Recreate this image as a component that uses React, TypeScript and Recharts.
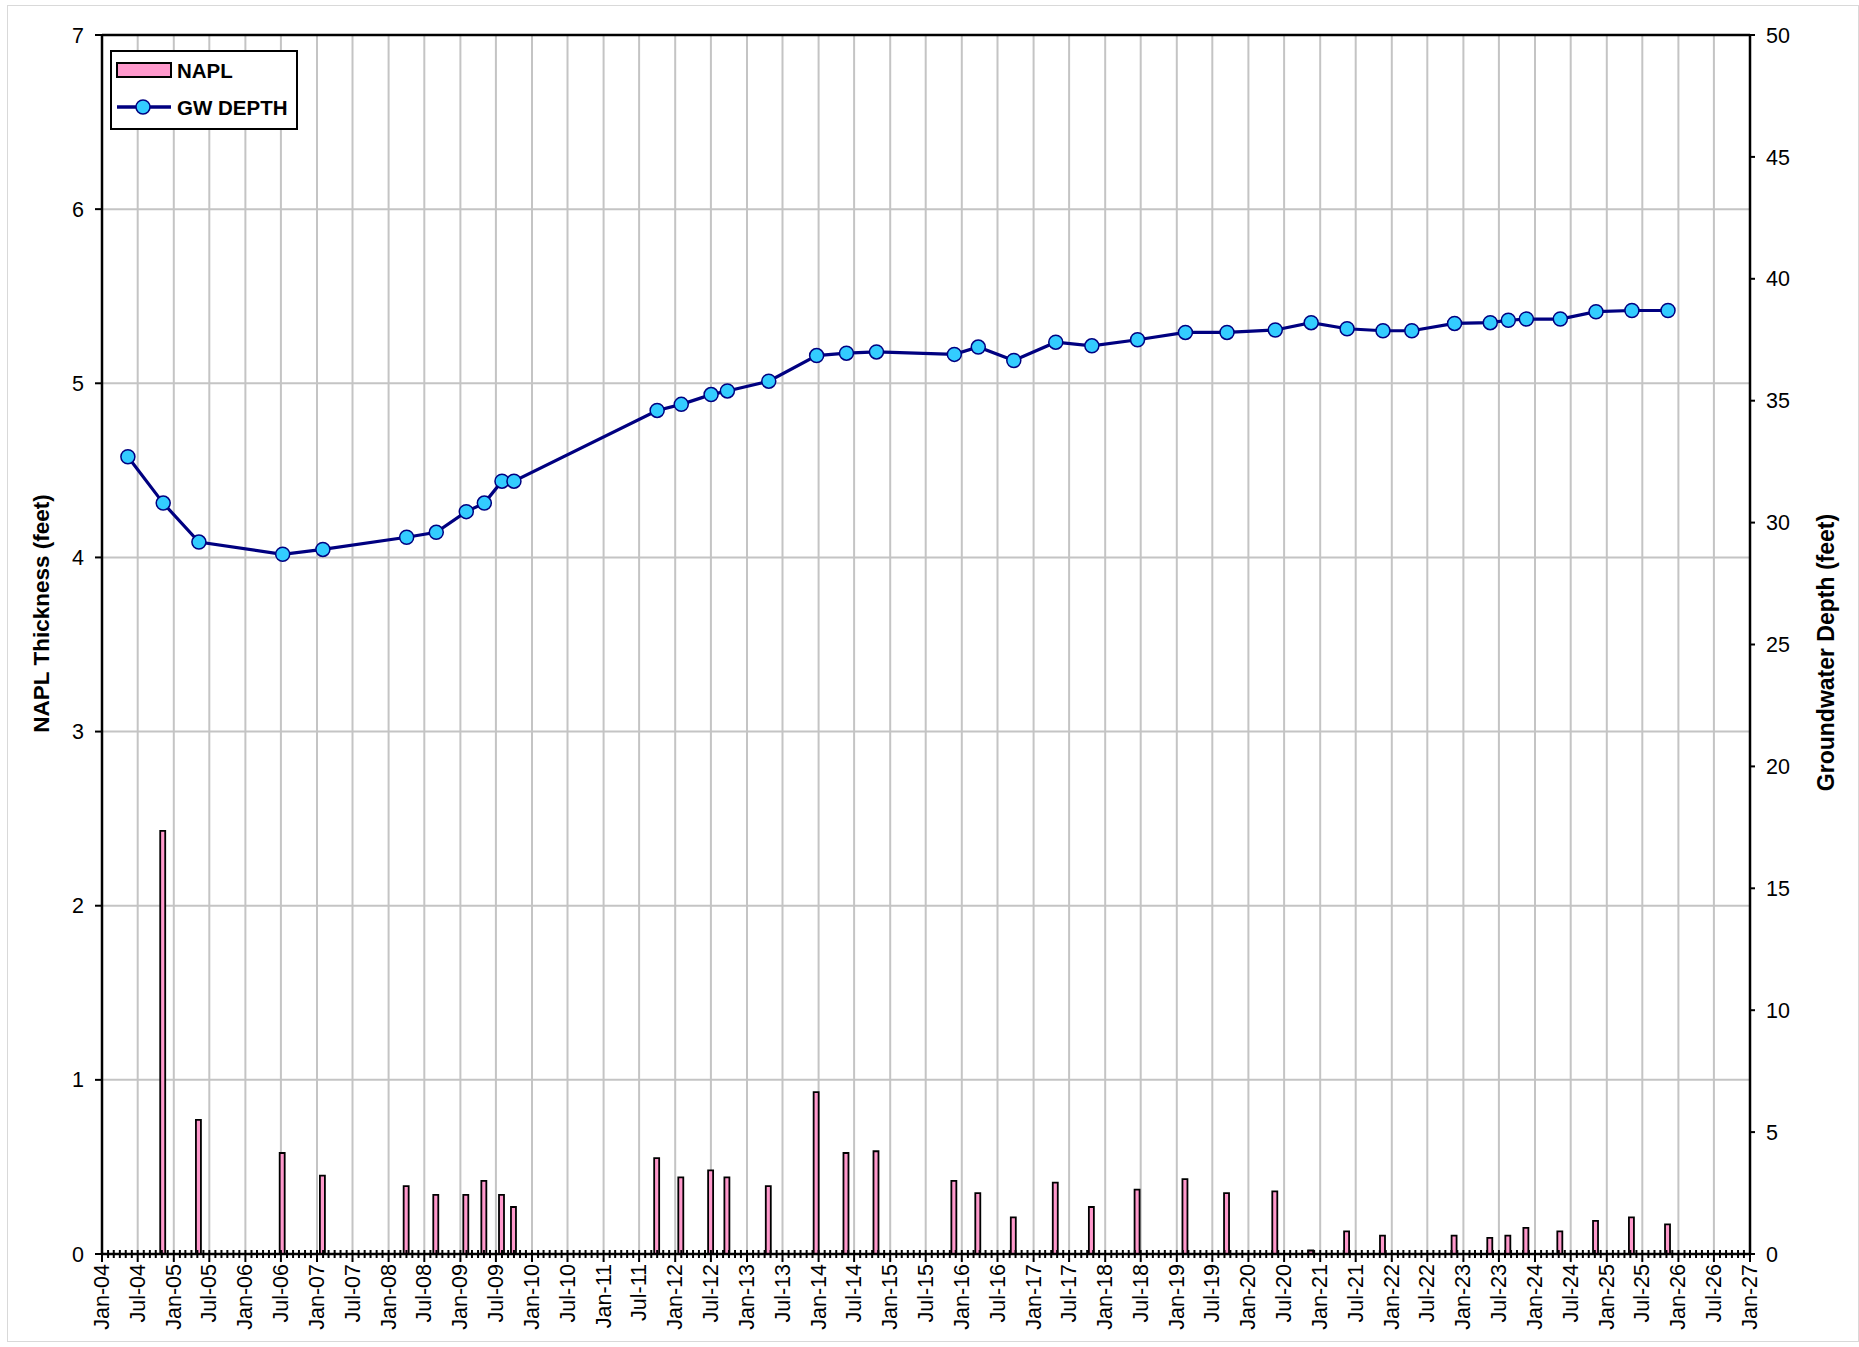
import React from 'react';
import {
  ComposedChart,
  Bar,
  Line,
  XAxis,
  YAxis,
  CartesianGrid,
  Legend,
  ReferenceLine,
} from 'recharts';

// sampling events
const SAMPLE_DATES = [
  '2004-05-12', '2004-11-08', '2005-05-09', '2006-07-10', '2007-01-31',
  '2008-04-02', '2008-08-31', '2009-01-31', '2009-05-03', '2009-08-01',
  '2009-10-01', '2011-10-01', '2012-02-01', '2012-07-02', '2012-09-23',
  '2013-04-22', '2013-12-22', '2014-05-23', '2014-10-23', '2015-11-24',
  '2016-03-25', '2016-09-22', '2017-04-24', '2017-10-25', '2018-06-15',
  '2019-02-14', '2019-09-14', '2020-05-17', '2020-11-16', '2021-05-18',
  '2021-11-17', '2022-04-13', '2022-11-17', '2023-05-18', '2023-08-18',
  '2023-11-18', '2024-05-09', '2024-11-07', '2025-05-09', '2025-11-09',
];

// NAPL thickness (ft), null = no measurable product
const NAPL_FT = [
  null, 2.43, 0.77, 0.58, 0.45,
  0.39, 0.34, 0.34, 0.42, 0.34,
  0.27, 0.55, 0.44, 0.48, 0.44,
  0.39, 0.93, 0.58, 0.59, 0.42,
  0.35, 0.21, 0.41, 0.27, 0.37,
  0.43, 0.35, 0.36, 0.02, 0.13,
  0.105, null, 0.105, 0.093, 0.105,
  0.15, 0.13, 0.19, 0.21, 0.17,
];

// groundwater depth (ft)
const GW_DEPTH_FT = [
  32.7, 30.8, 29.2, 28.7, 28.9,
  29.4, 29.6, 30.45, 30.8, 31.7,
  31.7, 34.6, 34.85, 35.25, 35.4,
  35.8, 36.85, 36.95, 37.0, 36.9,
  37.2, 36.65, 37.4, 37.25, 37.5,
  37.8, 37.8, 37.9, 38.2, 37.95,
  37.87, 37.87, 38.17, 38.2, 38.3,
  38.35, 38.35, 38.65, 38.7, 38.7,
];

const LEFT_TICKS = [0, 1, 2, 3, 4, 5, 6, 7];
const RIGHT_TICKS = [0, 5, 10, 15, 20, 25, 30, 35, 40, 45, 50];
const MONTH_LABELS: Record<number, string> = { 0: 'Jan', 6: 'Jul' };
const FIRST_YEAR = 2004;
const LAST_YEAR = 2027;

const NAPL_FILL = '#FF99CC';
const GW_STROKE = '#000080';
const GW_DOT = '#33CCFF';
const GRID = '#c4c4c4';
const FONT = '"Liberation Sans", Arial, Helvetica, sans-serif';

const toTime = (s: string) => {
  const [y, m, d] = s.split('-').map(Number);
  return Date.UTC(y, m - 1, d);
};

const data = SAMPLE_DATES.map((d, i) => ({
  t: toTime(d),
  napl: NAPL_FT[i],
  gw: GW_DEPTH_FT[i],
}));

// monthly minor ticks, Jan/Jul majors
const monthTicks: number[] = [];
const majorTicks: number[] = [];
for (let y = FIRST_YEAR; y <= LAST_YEAR; y++) {
  for (let m = 0; m < 12; m++) {
    if (y === LAST_YEAR && m > 0) break;
    const t = Date.UTC(y, m, 1);
    monthTicks.push(t);
    if (m in MONTH_LABELS) majorTicks.push(t);
  }
}

function formatTick(v: number) {
  const d = new Date(v);
  const yy = String(d.getUTCFullYear() % 100).padStart(2, '0');
  return `${MONTH_LABELS[d.getUTCMonth()]}-${yy}`;
}

function DateTick({ x, y, payload }: any) {
  const m = new Date(payload.value).getUTCMonth();
  const major = m in MONTH_LABELS;
  return (
    <g>
      <line x1={x} x2={x} y1={y - 4} y2={major ? y + 8 : y + 4} stroke="#000" strokeWidth={2} />
      {major && (
        <text
          transform={`translate(${x},${y + 10}) rotate(-90)`}
          textAnchor="end"
          dominantBaseline="central"
          fontSize={21.5}
          fontFamily={FONT}
          fill="#000"
        >
          {formatTick(payload.value)}
        </text>
      )}
    </g>
  );
}

function AxisTitle({ viewBox, value, cx, dy, size }: any) {
  const cy = viewBox.y + viewBox.height / 2 + dy;
  return (
    <text
      transform={`translate(${cx},${cy}) rotate(-90)`}
      textAnchor="middle"
      dominantBaseline="central"
      fontSize={size}
      fontWeight="bold"
      fontFamily={FONT}
      fill="#000"
    >
      {value}
    </text>
  );
}

function LegendBox() {
  return (
    <svg width={188} height={80} style={{ display: 'block' }}>
      <rect x={1} y={1} width={186} height={78} fill="#fff" stroke="#000" strokeWidth={2} />
      <rect x={7} y={13} width={54} height={14} fill={NAPL_FILL} stroke="#000" strokeWidth={2} />
      <text x={67} y={20} dominantBaseline="central" fontSize={20.5} fontWeight="bold" fontFamily={FONT}>
        NAPL
      </text>
      <line x1={7} x2={61} y1={57} y2={57} stroke={GW_STROKE} strokeWidth={3.5} />
      <circle cx={33} cy={57} r={7} fill={GW_DOT} stroke={GW_STROKE} strokeWidth={1.5} />
      <text x={67} y={57} dominantBaseline="central" fontSize={20.5} fontWeight="bold" fontFamily={FONT}>
        GW DEPTH
      </text>
    </svg>
  );
}

export default function App() {
  return (
    <div style={{ position: 'absolute', left: 0, top: 0, width: 1859, height: 1347, background: '#fff' }}>
      <div
        style={{
          position: 'absolute',
          left: 7,
          top: 5,
          width: 1852,
          height: 1337,
          border: '1px solid #d9d9d9',
          boxSizing: 'border-box',
        }}
      />
      <div style={{ position: 'absolute', left: 0, top: 0 }}>
        <ComposedChart
          width={1859}
          height={1347}
          data={data}
          margin={{ top: 35, right: 0, bottom: 0, left: 0 }}
          style={{ fontFamily: FONT }}
        >
          <CartesianGrid
            yAxisId="left"
            stroke={GRID}
            strokeWidth={2}
            verticalValues={majorTicks}
          />
          <XAxis
            dataKey="t"
            type="number"
            scale="linear"
            domain={[monthTicks[0], monthTicks[monthTicks.length - 1]]}
            ticks={monthTicks}
            interval={0}
            height={93}
            tickSize={0}
            tickMargin={0}
            tickLine={false}
            tick={<DateTick />}
            axisLine={{ stroke: '#000', strokeWidth: 2.5 }}
            allowDataOverflow
          />
          <YAxis
            yAxisId="left"
            domain={[0, 7]}
            ticks={LEFT_TICKS}
            width={102}
            tickSize={7}
            tickMargin={11}
            tick={{ fill: '#000', fontSize: 21.5 }}
            tickLine={{ stroke: '#000', strokeWidth: 2 }}
            axisLine={{ stroke: '#000', strokeWidth: 2.5 }}
            label={<AxisTitle value="NAPL Thickness (feet)" cx={41} dy={-31} size={22.5} />}
          />
          <YAxis
            yAxisId="right"
            orientation="right"
            domain={[0, 50]}
            ticks={RIGHT_TICKS}
            width={109}
            tickSize={5}
            tickMargin={11}
            tick={{ fill: '#000', fontSize: 21.5 }}
            tickLine={{ stroke: '#000', strokeWidth: 2 }}
            axisLine={{ stroke: '#000', strokeWidth: 2.5 }}
            label={<AxisTitle value="Groundwater Depth (feet)" cx={1826} dy={8} size={23} />}
          />
          <ReferenceLine yAxisId="left" y={7} stroke="#000" strokeWidth={2.5} />
          <Bar
            yAxisId="left"
            dataKey="napl"
            name="NAPL"
            barSize={5}
            fill={NAPL_FILL}
            stroke="#000"
            strokeWidth={1.8}
            isAnimationActive={false}
          />
          <Line
            yAxisId="right"
            dataKey="gw"
            name="GW DEPTH"
            type="linear"
            stroke={GW_STROKE}
            strokeWidth={3.2}
            dot={{ r: 7, fill: GW_DOT, stroke: GW_STROKE, strokeWidth: 1.5 }}
            activeDot={false}
            isAnimationActive={false}
          />
          <Legend
            layout="vertical"
            align="center"
            verticalAlign="middle"
            content={<LegendBox />}
            wrapperStyle={{ left: 110, top: 50, width: 188, height: 80 }}
          />
        </ComposedChart>
      </div>
    </div>
  );
}
